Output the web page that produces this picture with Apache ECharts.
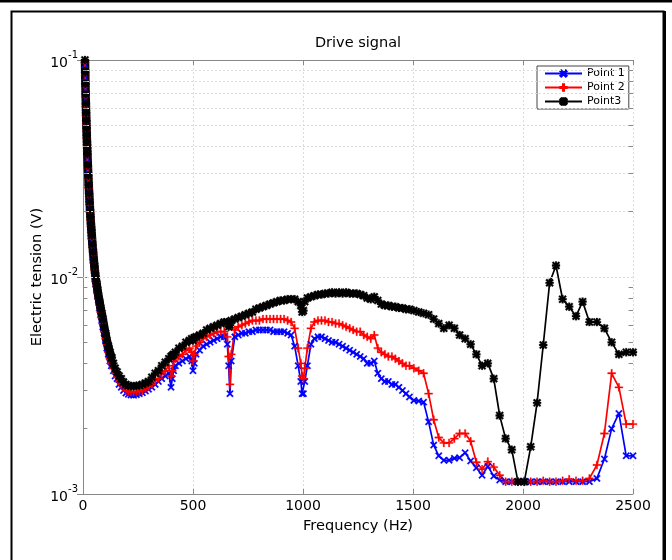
<!DOCTYPE html>
<html>
<head>
<meta charset="utf-8">
<script src="https://cdn.jsdelivr.net/npm/echarts@6/dist/echarts.min.js"></script>
<style>
  html, body { margin: 0; padding: 0; background: #fff; }
  #chart { width: 672px; height: 560px; }
</style>
</head>
<body>
<div id="chart"></div>
<script>
const FONT = "DejaVu Sans";

// frequency grid (Hz) shared by the three points
const freq = [
  9,10,11,12,13,14,15,16,17,18,19,20,22,24,26,28,30,32,34,36,38,40,43,46,49,52,55,58,62,66,70,
  75,80,85,90,96,102,108,115,122,130,138,146,155,164,174,184,195,206,218,230,243,256,270,284,298,313,328,343,358,374,390,
  400,406,412,420,436,452,468,484,494,500,506,514,530,546,562,578,594,610,626,642,656,662,668,674,
  690,706,722,738,754,770,786,802,818,834,850,866,882,898,914,930,946,962,978,990,996,1002,1008,
  1020,1036,1052,1068,1084,1100,1116,1132,1148,1164,1180,1196,1212,1228,1244,1260,1276,1292,1308,1324,
  1340,1356,1372,1388,1404,1420,1436,1452,1468,1484,
  1504,1526,1548,1571,1594,1617,1640,1664,1688,1712,1737,1762,1788,1814,1840,1867,1894,1921,1949,1977,
  2006,2035,2064,2092,2121,2150,2180,2210,2241,2271,2302,2336,2370,2403,2436,2469,2500
];

// electric tension (V)
const point1 = [
  0.095,0.083,0.0735,0.066,0.0598,0.0542,0.0499,0.046,0.0428,0.0399,0.0373,0.035,
  0.0311,0.0278,0.0252,0.023,0.0211,0.0194,0.018,0.0167,0.0157,0.0147,
  0.0134,0.0124,0.0114,0.0106,0.0099,0.0093,0.0088,0.0083,0.0078,
  0.0072,0.0067,0.0063,0.0059,0.0055,0.0051,0.0047,0.0044,0.0041,0.0039,0.0037,0.0035,0.0034,0.0032,0.0031,0.0030,
  0.00292,0.00288,0.00286,0.00285,0.00287,0.0029,0.00293,0.00298,0.00304,0.0031,0.0032,0.0033,0.0034,0.0035,0.0036,
  0.0031,0.0034,0.0037,0.0039,0.0040,0.0041,0.0042,0.0043,0.0041,0.0037,0.0040,0.0044,
  0.0046,0.0048,0.0049,0.0050,0.0051,0.0052,0.0053,0.0053,0.0049,0.0039,0.0029,0.0041,
  0.0053,0.0054,0.0055,0.0055,0.0056,0.0056,0.0057,0.0057,0.0057,0.0057,0.0057,0.0056,
  0.0056,0.0056,0.0056,0.0055,0.0054,0.0048,0.0039,0.0033,0.0029,0.0029,0.0033,
  0.0039,0.0049,0.0052,0.0053,0.0053,0.0052,0.0051,0.0050,0.0050,0.0049,0.0048,0.0047,0.0046,0.0045,0.0044,
  0.0043,0.0042,0.0040,0.0040,0.0041,0.0036,0.0034,0.0033,0.0033,0.0032,0.0032,0.0031,0.0030,0.0029,0.0028,
  0.0027,0.00268,0.00265,0.00215,0.00168,0.0015,0.00143,0.00143,0.00146,0.00147,0.00155,0.00142,
  0.00132,0.00122,0.00134,0.00121,0.00116,0.00114,0.00114,0.00114,
  0.00114,0.00114,0.00114,0.00114,0.00114,0.00114,0.00114,0.00114,0.00114,0.00114,0.00114,0.00118,
  0.00145,0.0020,0.00235,0.0015,0.0015
];
const point2 = [
  0.097,0.085,0.075,0.0675,0.061,0.0553,0.051,0.047,0.0437,0.0407,0.0381,0.0357,
  0.0317,0.0284,0.0257,0.0235,0.0215,0.0198,0.0183,0.0171,0.016,0.015,
  0.0137,0.0126,0.0116,0.0108,0.0101,0.0095,0.0090,0.0084,0.0079,
  0.0074,0.0069,0.0065,0.0061,0.0056,0.0052,0.0049,0.0045,0.0042,0.0040,0.0038,0.0036,0.00345,0.0033,0.0032,0.0031,
  0.0030,0.00297,0.00295,0.00295,0.00296,0.00298,0.0030,0.00306,0.00313,0.0032,0.00333,0.0034,0.0036,0.0037,0.0039,
  0.0035,0.0037,0.0041,0.0042,0.0043,0.0044,0.0046,0.0047,0.0045,0.0041,0.0044,0.0048,
  0.0050,0.0052,0.0053,0.0054,0.0055,0.0056,0.0056,0.0056,0.0053,0.0043,0.0032,0.0044,
  0.0057,0.0059,0.0060,0.0061,0.0062,0.0063,0.0063,0.0063,0.0064,0.0064,0.0064,0.0064,
  0.0064,0.0064,0.0064,0.0063,0.0062,0.0058,0.0047,0.0040,0.0035,0.0034,0.0038,
  0.0047,0.0058,0.0062,0.0063,0.0063,0.0063,0.0062,0.0062,0.0061,0.0061,0.0060,0.0059,0.0058,0.0057,0.0056,
  0.0056,0.0054,0.0053,0.0052,0.0054,0.0047,0.0045,0.0044,0.0043,0.0043,0.0042,0.0041,0.0040,0.0039,0.0039,
  0.0038,0.0037,0.0036,0.0029,0.0022,0.00182,0.00172,0.00172,0.0018,0.0019,0.0019,0.00175,
  0.0014,0.0013,0.00141,0.00133,0.00122,0.00114,0.00114,0.00114,
  0.00114,0.00114,0.00114,0.00115,0.00114,0.00114,0.00115,0.00117,0.00115,0.00115,0.00118,0.00136,
  0.0019,0.0036,0.0031,0.0021,0.0021
];
const point3 = [
  0.100,0.0875,0.0775,0.0695,0.0630,0.0570,0.0525,0.0485,0.0450,0.0420,0.0393,0.0368,
  0.0327,0.0293,0.0265,0.0242,0.0222,0.0204,0.0189,0.0176,0.0165,0.0155,
  0.0141,0.0130,0.0120,0.0112,0.0104,0.0098,0.0093,0.0087,0.0082,
  0.0077,0.0072,0.0068,0.0064,0.0059,0.0055,0.0051,0.0048,0.0045,0.00425,0.0040,0.0038,0.00365,0.0035,0.0034,0.00328,
  0.0032,0.00316,0.00314,0.00314,0.00315,0.00316,0.0032,0.00325,0.0033,0.00345,0.0036,0.0037,0.0039,0.00405,0.0042,
  0.0043,0.00435,0.0044,0.0045,0.0047,0.0048,0.0050,0.0051,0.0052,0.0051,0.00525,0.0053,
  0.0054,0.0055,0.0057,0.0058,0.0059,0.0060,0.0061,0.0062,0.0062,0.0059,0.0060,0.0063,
  0.0064,0.0065,0.0066,0.0067,0.0068,0.0069,0.0071,0.0072,0.0073,0.0074,0.0075,0.0076,
  0.0077,0.0078,0.0078,0.0079,0.0079,0.0079,0.0077,0.0074,0.0069,0.0070,0.0077,
  0.0080,0.0081,0.0082,0.0083,0.0083,0.0084,0.0084,0.0085,0.0084,0.0085,0.0084,0.0085,0.0084,0.0084,0.0084,
  0.0083,0.0082,0.0080,0.0079,0.0081,0.0078,0.0075,0.0074,0.0074,0.0073,0.0073,0.0072,0.0072,0.0071,0.0071,
  0.0070,0.0069,0.0068,0.0067,0.0064,0.0061,0.0058,0.0060,0.0058,0.0054,0.0052,0.0049,
  0.0044,0.0039,0.0040,0.0034,0.0023,0.0018,0.0016,0.00114,
  0.00114,0.00165,0.00263,0.00486,0.0094,0.0113,0.0079,0.0073,0.0066,0.0077,0.0062,0.0062,
  0.0058,0.0050,0.0044,0.0045,0.0045
];

// minor decade lines on the log axis
const yMinor = [0.002,0.003,0.004,0.005,0.006,0.007,0.008,0.009,0.02,0.03,0.04,0.05,0.06,0.07,0.08,0.09];

// below this the measured points are so dense they merge into a thick band
const DENSE_END = 130;

const SYM_X = "path://M0,1.2L1.2,0L8,6.8L6.8,8Z M6.8,0L8,1.2L1.2,8L0,6.8Z";
const SYM_PLUS = "path://M0,3.3H8V4.7H0Z M3.3,0H4.7V8H3.3Z";
const SYM_STAR = "path://M0,3.1H8V4.9H0Z M3.1,0H4.9V8H3.1Z M0,1.3L1.3,0L8,6.7L6.7,8Z M6.7,0L8,1.3L1.3,8L0,6.7Z";

const AXIS = "#888";
const GRID = "#dcdcdc";

function pointSeries(name, vals, color, symbol, size, denseWidth) {
  const pts = freq.map((f, i) => [f, vals[i]]);
  const base = {
    name, type: "line", symbol, symbolSize: size, showSymbol: true,
    itemStyle: { color, borderColor: color, borderWidth: 0.3 },
    emphasis: { disabled: true }, animation: false
  };
  return [
    Object.assign({}, base, { data: pts.filter(p => p[0] >= DENSE_END), lineStyle: { color, width: 1.7 } }),
    Object.assign({}, base, { data: pts.filter(p => p[0] <= DENSE_END), lineStyle: { color, width: denseWidth } })
  ];
}

function gridMarks() {
  const data = [];
  yMinor.forEach(v => {
    data.push({ yAxis: v });
    data.push([{ coord: [0, v], lineStyle: { color: AXIS, type: "solid" } }, { coord: [20, v] }]);
    data.push([{ coord: [2480, v], lineStyle: { color: AXIS, type: "solid" } }, { coord: [2500, v] }]);
  });
  return data;
}

const chart = echarts.init(document.getElementById("chart"));
const tickLabel = { fontFamily: FONT, fontSize: 14, color: "#000" };

chart.setOption({
  backgroundColor: "#fff",
  animation: false,
  grid: { left: 83, top: 60, width: 550, height: 434, outerBoundsMode: "none" },
  legend: {
    data: ["Point 1", "Point 2", "Point3"],
    orient: "vertical", left: 537, top: 66,
    itemWidth: 37, itemHeight: 8, itemGap: 3,
    padding: [2, 4, 2, 7],
    borderColor: "#444", borderWidth: 1, backgroundColor: "#fff",
    textStyle: { fontFamily: FONT, fontSize: 11, color: "#000" }
  },
  xAxis: [
    {
      type: "value", min: 0, max: 2500, interval: 500,
      name: "Frequency (Hz)", nameLocation: "middle", nameGap: 25, nameMoveOverlap: false,
      nameTextStyle: { fontFamily: FONT, fontSize: 14.6, color: "#000" },
      axisLine: { lineStyle: { color: AXIS } },
      axisTick: { inside: true, length: 5, lineStyle: { color: AXIS } },
      axisLabel: Object.assign({ margin: 5, formatter: v => String(v), showMinLabel: true, showMaxLabel: true }, tickLabel),
      splitLine: { show: true, lineStyle: { color: GRID, type: [2, 2] } }
    },
    {
      type: "value", position: "top", min: 0, max: 2500, interval: 500,
      axisLine: { lineStyle: { color: AXIS } },
      axisTick: { inside: true, length: 5, lineStyle: { color: AXIS } },
      axisLabel: { show: false }, splitLine: { show: false }
    }
  ],
  yAxis: [
    {
      type: "log", logBase: 10, min: 0.001, max: 0.1,
      name: "Electric tension (V)", nameLocation: "middle", nameGap: 38, nameMoveOverlap: false,
      nameTextStyle: { fontFamily: FONT, fontSize: 14.6, color: "#000" },
      axisLine: { lineStyle: { color: AXIS } },
      axisTick: { inside: true, length: 6, lineStyle: { color: AXIS } },
      axisLabel: {
        margin: 5,
        formatter: v => "{b|10}{s|" + Math.round(Math.log10(v)) + "}",
        rich: {
          b: { fontFamily: FONT, fontSize: 14, color: "#000", verticalAlign: "bottom", lineHeight: 20 },
          s: { fontFamily: FONT, fontSize: 10, color: "#000", verticalAlign: "top", lineHeight: 10 }
        }
      },
      splitLine: { show: true, lineStyle: { color: GRID, type: [2, 2] } }
    },
    {
      type: "log", logBase: 10, min: 0.001, max: 0.1, position: "right",
      axisLine: { lineStyle: { color: AXIS } },
      axisTick: { inside: true, length: 6, lineStyle: { color: AXIS } },
      axisLabel: { show: false }, splitLine: { show: false }
    }
  ],
  graphic: [
    { type: "rect", silent: true, shape: { x: 0, y: 0, width: 672, height: 2.5 }, style: { fill: "#000" } },
    { type: "rect", silent: true, shape: { x: 11.5, y: 11.5, width: 652, height: 560 }, style: { fill: "none", stroke: "#000", lineWidth: 2 } },
    { type: "rect", silent: true, shape: { x: 663, y: 11, width: 3, height: 549 }, style: { fill: "#000" } },
    {
      type: "text", silent: true, x: 358, y: 43,
      style: { text: "Drive signal", font: '14.5px "DejaVu Sans"', fill: "#000",
        align: "center", verticalAlign: "middle", textAlign: "center", textVerticalAlign: "middle" }
    }
  ],
  series: [
    {
      name: "grid", type: "line", data: [], silent: true,
      markLine: {
        silent: true, symbol: ["none", "none"], animation: false,
        label: { show: false },
        lineStyle: { color: GRID, type: [2, 2], width: 1 },
        data: gridMarks()
      }
    },
    ...pointSeries("Point 1", point1, "#0000ff", SYM_X, 7, 6),
    ...pointSeries("Point 2", point2, "#ff0000", SYM_PLUS, 8, 6.5),
    ...pointSeries("Point3", point3, "#000000", SYM_STAR, 8, 8.5)
  ]
});
</script>
</body>
</html>
